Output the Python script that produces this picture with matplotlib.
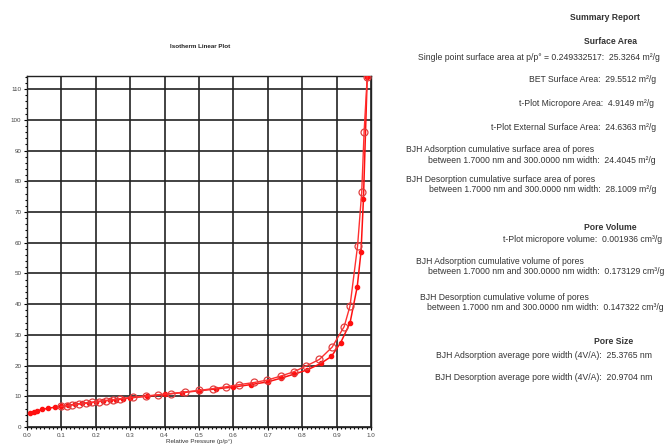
import matplotlib
matplotlib.use("Agg")
import matplotlib.pyplot as plt
from matplotlib.ticker import MultipleLocator
import numpy as np

# isotherm data
p_ads = [0.010, 0.020, 0.030, 0.045, 0.060, 0.080, 0.100, 0.120, 0.140, 0.160,
         0.180, 0.200, 0.220, 0.240, 0.260, 0.280, 0.300, 0.350, 0.400, 0.450,
         0.500, 0.550, 0.600, 0.650, 0.700, 0.738, 0.776, 0.815, 0.854, 0.885,
         0.912, 0.939, 0.960, 0.971, 0.978, 0.989]
v_ads = [4.4, 4.9, 5.3, 5.7, 6.1, 6.4, 6.8, 7.1, 7.4, 7.7,
         7.9, 8.2, 8.5, 8.7, 8.9, 9.2, 9.5, 10.0, 10.6, 11.2,
         11.8, 12.4, 13.0, 13.8, 14.7, 15.9, 17.2, 18.6, 20.7, 23.0,
         27.5, 33.9, 45.7, 57.1, 74.2, 114.0]

p_des = [0.989, 0.980, 0.973, 0.961, 0.939, 0.922, 0.887, 0.850, 0.812, 0.776,
         0.738, 0.699, 0.661, 0.617, 0.579, 0.540, 0.501, 0.460, 0.419, 0.381,
         0.347, 0.308, 0.270, 0.250, 0.229, 0.210, 0.190, 0.171, 0.152, 0.132,
         0.115, 0.099]
v_des = [114.0, 96.2, 76.4, 59.0, 39.4, 32.7, 26.0, 22.0, 19.9, 18.0,
         16.6, 15.3, 14.5, 13.8, 13.1, 12.5, 11.9, 11.4, 10.9, 10.5,
         10.1, 9.7, 9.2, 8.9, 8.6, 8.3, 8.0, 7.8, 7.5, 7.2,
         6.9, 6.7]

x_ticks = [0.0, 0.1, 0.2, 0.3, 0.4, 0.5, 0.6, 0.7, 0.8, 0.9, 1.0]
y_ticks = [0, 10, 20, 30, 40, 50, 60, 70, 80, 90, 100, 110]

# report text: (text, x, y, alignment, bold)
report_lines = [
    ("Summary Report", 605, 18, "center", True),
    ("Surface Area", 610, 42, "center", True),
    ("Single point surface area at p/p\u00b0 = 0.249332517:  25.3264 m\u00b2/g", 660, 57, "right", False),
    ("BET Surface Area:  29.5512 m\u00b2/g", 656, 80, "right", False),
    ("t-Plot Micropore Area:  4.9149 m\u00b2/g", 654, 104, "right", False),
    ("t-Plot External Surface Area:  24.6363 m\u00b2/g", 656, 127, "right", False),
    ("BJH Adsorption cumulative surface area of pores", 406, 150, "left", False),
    ("between 1.7000 nm and 300.0000 nm width:  24.4045 m\u00b2/g", 656, 160, "right", False),
    ("BJH Desorption cumulative surface area of pores", 406, 180, "left", False),
    ("between 1.7000 nm and 300.0000 nm width:  28.1009 m\u00b2/g", 656, 190, "right", False),
    ("Pore Volume", 610, 227, "center", True),
    ("t-Plot micropore volume:  0.001936 cm\u00b3/g", 662, 240, "right", False),
    ("BJH Adsorption cumulative volume of pores", 416, 262, "left", False),
    ("between 1.7000 nm and 300.0000 nm width:  0.173129 cm\u00b3/g", 664, 272, "right", False),
    ("BJH Desorption cumulative volume of pores", 420, 297, "left", False),
    ("between 1.7000 nm and 300.0000 nm width:  0.147322 cm\u00b3/g", 664, 308, "right", False),
    ("Pore Size", 614, 341, "center", True),
    ("BJH Adsorption average pore width (4V/A):  25.3765 nm", 652, 355, "right", False),
    ("BJH Desorption average pore width (4V/A):  20.9704 nm", 652, 378, "right", False),
]

plt.rcParams['font.family'] = ['Liberation Sans', 'DejaVu Sans']

W, H = 667, 447
fig = plt.figure(figsize=(W / 100, H / 100), dpi=100)
fig.patch.set_facecolor("white")

ax = fig.add_axes([27 / W, 1 - 427 / H, (371 - 27) / W, (427 - 76) / H])
ax.plot(p_ads, v_ads, color="#ff1010", lw=1.1, marker="o", ms=3,
        mfc="#ff1010", mec="#ff1010", zorder=3)
ax.plot(p_des, v_des, color="#ff3030", lw=1.0, marker="o", ms=5,
        mfc="none", mec="#e04040", mew=0.9, zorder=3)

ax.set_xlim(0, 1.0)
ax.set_ylim(0, 114.3)
ax.set_xticks(x_ticks)
ax.set_yticks(y_ticks)
ax.set_xticklabels([f"{t:.1f}" for t in x_ticks])
ax.xaxis.set_minor_locator(MultipleLocator(0.0125))
ax.yaxis.set_minor_locator(MultipleLocator(2))
ax.tick_params(which="major", labelsize=4.5, length=2.5, width=0.8,
               labelcolor="#444444", pad=1.5)
ax.tick_params(which="minor", length=1.5, width=0.8)
ax.grid(True, which="major", color="#222222", lw=1.2)
for s in ax.spines.values():
    s.set_color("#222222")
    s.set_linewidth(1.0)

ax.set_xlabel("Relative Pressure (p/p\u00b0)", fontsize=4.5, labelpad=1, color="#333333")
fig.text(200 / W, 1 - 47 / H, "Isotherm Linear Plot", ha="center", va="center",
         fontsize=4.5, color="#222222", fontweight="bold")

for txt, x, y, ha, bold in report_lines:
    fig.text(x / W, 1 - y / H, txt, ha=ha, va="center",
             fontsize=6.2, color="#333333",
             fontweight="bold" if bold else "normal")

fig.savefig("out.png", dpi=100)
